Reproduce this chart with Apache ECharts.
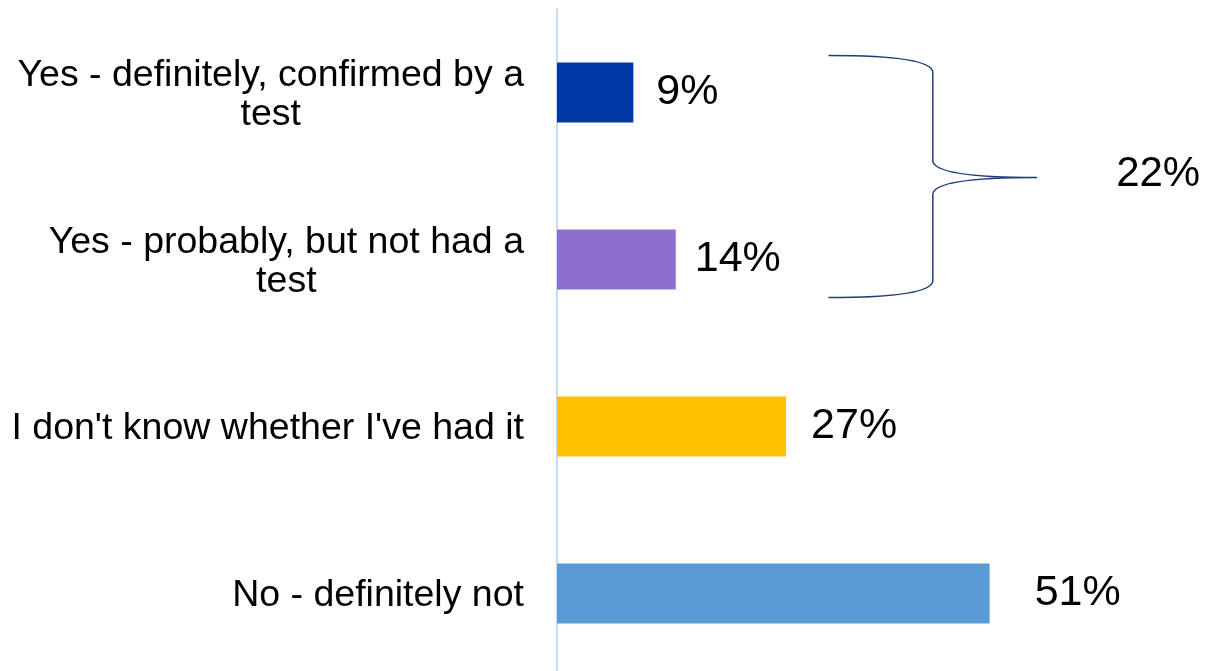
<!DOCTYPE html>
<html>
<head>
<meta charset="utf-8">
<script src="https://cdn.jsdelivr.net/npm/echarts@6/dist/echarts.min.js"></script>
<style>
html,body{margin:0;padding:0;background:#fff;overflow:hidden;}
#chart{width:1205px;height:677px;}
</style>
</head>
<body>
<div id="chart"></div>
<script>
const categories = [
  "Yes - definitely, confirmed by a\ntest",
  "Yes - probably, but not had a\ntest",
  "I don't know whether I've had it",
  "No - definitely not"
];
const values = [9, 14, 27, 51];
const barColors = ["#0039A6", "#8E6FD0", "#FFC000", "#5B9BD5"];
const groupedTotal = [[0, 1, 22]]; // categories 0..1 combined = 22%

const FONT = "'Liberation Sans', Arial, sans-serif";
const labelGaps = [23, 19, 25, 45];

const chart = echarts.init(document.getElementById('chart'), null, {renderer: 'canvas'});

const option = {
  animation: false,
  backgroundColor: '#fff',
  grid: {left: 557, right: 139, top: 9, bottom: 0, containLabel: false},
  xAxis: {
    type: 'value', min: 0, max: 60, show: false
  },
  yAxis: {
    type: 'category',
    inverse: true,
    data: categories,
    axisLine: {show: true, lineStyle: {color: '#C6DDF3', width: 2}},
    axisTick: {show: false},
    splitLine: {show: false},
    axisLabel: {
      margin: 33,
      color: '#000',
      fontFamily: FONT,
      fontSize: 37.5,
      lineHeight: 39.5,
      padding: [5, 0, 0, 0],
      formatter: function (v) {
        return v.split('\n').map(s => '{c|' + s + '}').join('\n');
      },
      rich: {c: {align: 'center', fontFamily: FONT, fontSize: 37.5, lineHeight: 39.5, color: '#000'}}
    }
  },
  series: [
    {
      type: 'bar',
      barWidth: 60,
      data: values.map((v, i) => ({
        value: v,
        itemStyle: {color: barColors[i]},
        label: {distance: labelGaps[i]}
      })),
      label: {
        show: true,
        position: 'right',
        formatter: '{c}%',
        color: '#000',
        fontFamily: FONT,
        fontSize: 43,
        padding: [2, 0, 0, 0]
      }
    },
    {
      type: 'custom',
      clip: false,
      silent: true,
      data: groupedTotal,
      renderItem: function (params, api) {
        const a = api.value(0), b = api.value(1), total = api.value(2);
        const band = api.size([0, 1])[1];
        const yTop = api.coord([0, a])[1] - band * 0.222;
        const yBot = api.coord([0, b])[1] + band * 0.228;
        const yMid = (yTop + yBot) / 2 + 1;
        const L = api.coord([32, a])[0];
        const M = api.coord([44.3, a])[0];
        const R = api.coord([56.6, a])[0];
        const k = 17;
        const d = [
          'M', L, yTop,
          'Q', M, yTop, M, yTop + k,
          'L', M, yMid - k,
          'Q', M, yMid, R, yMid,
          'Q', M, yMid, M, yMid + k,
          'L', M, yBot - k,
          'Q', M, yBot, L, yBot
        ].join(' ');
        return {
          type: 'group',
          children: [
            {
              type: 'path',
              shape: {pathData: d},
              style: {fill: 'none', stroke: '#1F3B78', lineWidth: 1.5}
            },
            {
              type: 'text',
              x: R + 79,
              y: yMid - 3,
              style: {
                text: total + '%',
                fill: '#000',
                font: '42px ' + FONT,
                textAlign: 'left',
                textVerticalAlign: 'middle'
              }
            }
          ]
        };
      }
    }
  ]
};
chart.setOption(option);
</script>
</body>
</html>
